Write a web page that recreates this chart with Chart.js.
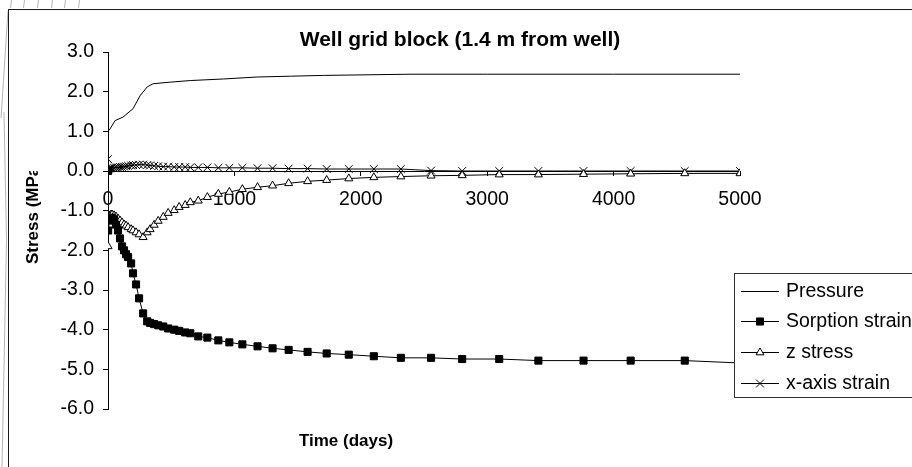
<!DOCTYPE html>
<html lang="en">
<head>
<meta charset="UTF-8">
<title>Well grid block (1.4 m from well)</title>
<script src="https://cdn.jsdelivr.net/npm/chart.js"></script>
<style>
  html, body { margin: 0; padding: 0; background: #fff; }
  #wrap { width: 912px; height: 467px; }
</style>
</head>
<body>
<div id="wrap"><canvas id="chart" width="912" height="467"></canvas></div>
<script>
// time steps (days) shared by the three marked series
const days = [0, 1, 8, 16, 24, 32, 48, 63, 79, 95, 111, 127, 143, 159, 183, 198, 222, 246, 278, 310,
  333, 365, 397, 437, 476, 524, 563, 611, 651, 714, 786, 873, 960, 1063, 1183, 1302, 1429, 1579, 1730, 1905,
  2103, 2317, 2556, 2802, 3095, 3405, 3762, 4135, 4563, 5000];

const sorptionStrain = [0.0, -1.5, -1.25, -1.2, -1.18, -1.18, -1.22, -1.35, -1.5, -1.7, -1.9, -2.0, -2.1, -2.17, -2.33, -2.58, -2.86, -3.21, -3.59, -3.79,
  -3.83, -3.86, -3.89, -3.92, -3.97, -4.0, -4.03, -4.07, -4.09, -4.17, -4.2, -4.27, -4.32, -4.37, -4.42, -4.47, -4.51, -4.56, -4.6, -4.63,
  -4.67, -4.71, -4.71, -4.74, -4.74, -4.78, -4.78, -4.78, -4.78, -4.84];

const zStress = [0.0, -1.9, -1.2, -1.12, -1.1, -1.1, -1.12, -1.15, -1.2, -1.25, -1.3, -1.35, -1.38, -1.42, -1.47, -1.5, -1.55, -1.6, -1.67, -1.55,
  -1.47, -1.36, -1.26, -1.16, -1.06, -0.99, -0.91, -0.86, -0.79, -0.75, -0.66, -0.58, -0.53, -0.46, -0.41, -0.37, -0.31, -0.26, -0.23, -0.19,
  -0.16, -0.14, -0.12, -0.11, -0.09, -0.09, -0.08, -0.07, -0.06, -0.06];

const xAxisStrain = [0.3, 0.05, 0.06, 0.07, 0.07, 0.08, 0.08, 0.09, 0.09, 0.1, 0.1, 0.11, 0.12, 0.13, 0.14, 0.15, 0.15, 0.16, 0.16, 0.15,
  0.14, 0.13, 0.12, 0.11, 0.11, 0.1, 0.1, 0.1, 0.09, 0.09, 0.09, 0.08, 0.08, 0.08, 0.07, 0.07, 0.06, 0.06, 0.05, 0.05,
  0.05, 0.05, 0.01, 0.0, 0.0, 0.0, 0.0, 0.0, 0.0, 0.0];

// pressure is a plain line, read at its own points
const pressureDays = [0, 16, 56, 119, 198, 254, 310, 357, 492, 651, 913, 1183, 1444, 1706, 2397, 3000, 4000, 5000];
const pressure = [1.0, 1.06, 1.27, 1.36, 1.57, 1.9, 2.12, 2.2, 2.24, 2.28, 2.32, 2.37, 2.39, 2.41, 2.44, 2.44, 2.44, 2.44];

const xTicks = [0, 1000, 2000, 3000, 4000, 5000];
const yTicks = [-6, -5, -4, -3, -2, -1, 0, 1, 2, 3];

const titleText = 'Well grid block (1.4 m from well)';
const xTitle = 'Time (days)';
const yTitle = 'Stress (MPa)';

const FONT = '"Liberation Sans", Arial, sans-serif';

const pts = (xs, ys) => xs.map((x, i) => ({ x: x, y: ys[i] }));

// chart frame, titles and the legend box that sits over the plot
const excelBits = {
  id: 'excelBits',
  beforeDraw(chart) {
    const ctx = chart.ctx;
    ctx.save();
    ctx.fillStyle = '#fff';
    ctx.fillRect(0, 0, chart.width, chart.height);
    // faint leftovers outside the chart frame
    ctx.strokeStyle = '#b5b5b5';
    ctx.lineWidth = 1;
    ctx.beginPath();
    [11, 24, 38, 52, 65, 79].forEach(x => { ctx.moveTo(x + 0.5, 0); ctx.lineTo(x - 0.5, 8); });
    ctx.moveTo(8, 11); ctx.lineTo(1, 118);
    ctx.moveTo(4, 112); ctx.lineTo(6.5, 240); ctx.lineTo(2, 467);
    ctx.stroke();
    ctx.restore();
  },
  afterDraw(chart) {
    const ctx = chart.ctx;
    ctx.save();
    // chart area border
    ctx.strokeStyle = '#1a1a1a';
    ctx.lineWidth = 1;
    ctx.strokeRect(8.5, 9.5, 940, 500);

    ctx.fillStyle = '#000';
    ctx.textBaseline = 'middle';
    ctx.textAlign = 'center';
    ctx.font = 'bold 21px ' + FONT;
    ctx.fillText(titleText, 460, 40);
    ctx.font = 'bold 17px ' + FONT;
    ctx.fillText(xTitle, 346, 441);

    // y title, cut off at the top like the original
    ctx.save();
    ctx.beginPath();
    ctx.rect(0, 171, 100, 300);
    ctx.clip();
    ctx.translate(33, 264);
    ctx.rotate(-Math.PI / 2);
    ctx.textAlign = 'left';
    ctx.font = 'bold 17px ' + FONT;
    ctx.fillText(yTitle, 0, 0);
    ctx.restore();

    // legend
    const lx = 734.5, ly = 273.5;
    ctx.fillStyle = '#fff';
    ctx.fillRect(lx, ly, 300, 124);
    ctx.strokeStyle = '#333';
    ctx.strokeRect(lx, ly, 300, 124);
    const rows = [291, 321, 352, 383];
    chart.data.datasets.forEach((ds, i) => {
      const y = rows[i];
      ctx.strokeStyle = '#000';
      ctx.lineWidth = 1;
      ctx.beginPath();
      ctx.moveTo(741, y + 0.5);
      ctx.lineTo(779, y + 0.5);
      ctx.stroke();
      if (ds.pointRadius > 0) {
        ctx.fillStyle = ds.pointBackgroundColor;
        ctx.strokeStyle = ds.pointBorderColor;
        Chart.helpers.drawPoint(ctx, {
          pointStyle: ds.pointStyle, radius: ds.pointRadius, rotation: 0, borderWidth: 1
        }, 760, y + 0.5);
      }
      ctx.fillStyle = '#000';
      ctx.textAlign = 'left';
      ctx.textBaseline = 'middle';
      ctx.font = '19.5px ' + FONT;
      ctx.fillText(ds.label, 786, y + 1);
    });
    ctx.restore();
  }
};

new Chart(document.getElementById('chart'), {
  type: 'line',
  data: {
    datasets: [
      {
        label: 'Pressure',
        data: pts(pressureDays, pressure),
        borderColor: '#000', borderWidth: 1,
        pointRadius: 0, pointStyle: 'line'
      },
      {
        label: 'Sorption strain',
        data: pts(days, sorptionStrain),
        borderColor: '#000', borderWidth: 1,
        pointStyle: 'rect', pointRadius: 5,
        pointBackgroundColor: '#000', pointBorderColor: '#000', pointBorderWidth: 1
      },
      {
        label: 'z stress',
        data: pts(days, zStress),
        borderColor: '#000', borderWidth: 1,
        pointStyle: 'triangle', pointRadius: 4.6,
        pointBackgroundColor: '#fff', pointBorderColor: '#000', pointBorderWidth: 1
      },
      {
        label: 'x-axis strain',
        data: pts(days, xAxisStrain),
        borderColor: '#000', borderWidth: 1,
        pointStyle: 'crossRot', pointRadius: 5.5,
        pointBackgroundColor: '#000', pointBorderColor: '#000', pointBorderWidth: 1
      }
    ]
  },
  options: {
    responsive: false,
    animation: false,
    devicePixelRatio: 1,
    layout: { autoPadding: false, padding: { left: 0, right: 172, top: 52, bottom: 58 } },
    plugins: {
      legend: { display: false },
      title: { display: false },
      tooltip: { enabled: false }
    },
    elements: { line: { tension: 0 } },
    scales: {
      x: {
        type: 'linear',
        position: { y: 0 },
        min: xTicks[0], max: xTicks[xTicks.length - 1],
        afterBuildTicks: s => { s.ticks = xTicks.map(v => ({ value: v })); },
        afterFit: s => { s.height = 0; },
        ticks: { color: '#000', font: { family: FONT, size: 19.5 }, padding: 13, maxRotation: 0,
          callback: v => String(v) },
        grid: { drawOnChartArea: false, drawTicks: true, tickLength: 4, color: '#000' },
        border: { display: true, color: '#000', width: 1 }
      },
      y: {
        type: 'linear',
        min: yTicks[0], max: yTicks[yTicks.length - 1],
        afterBuildTicks: s => { s.ticks = yTicks.map(v => ({ value: v })); },
        afterFit: s => { s.width = 108; },
        ticks: { color: '#000', font: { family: FONT, size: 19.5 }, padding: 9, callback: v => v.toFixed(1) },
        grid: { drawOnChartArea: false, drawTicks: true, tickLength: 5, color: '#000' },
        border: { display: true, color: '#000', width: 1 }
      }
    }
  },
  plugins: [excelBits]
});
</script>
</body>
</html>
